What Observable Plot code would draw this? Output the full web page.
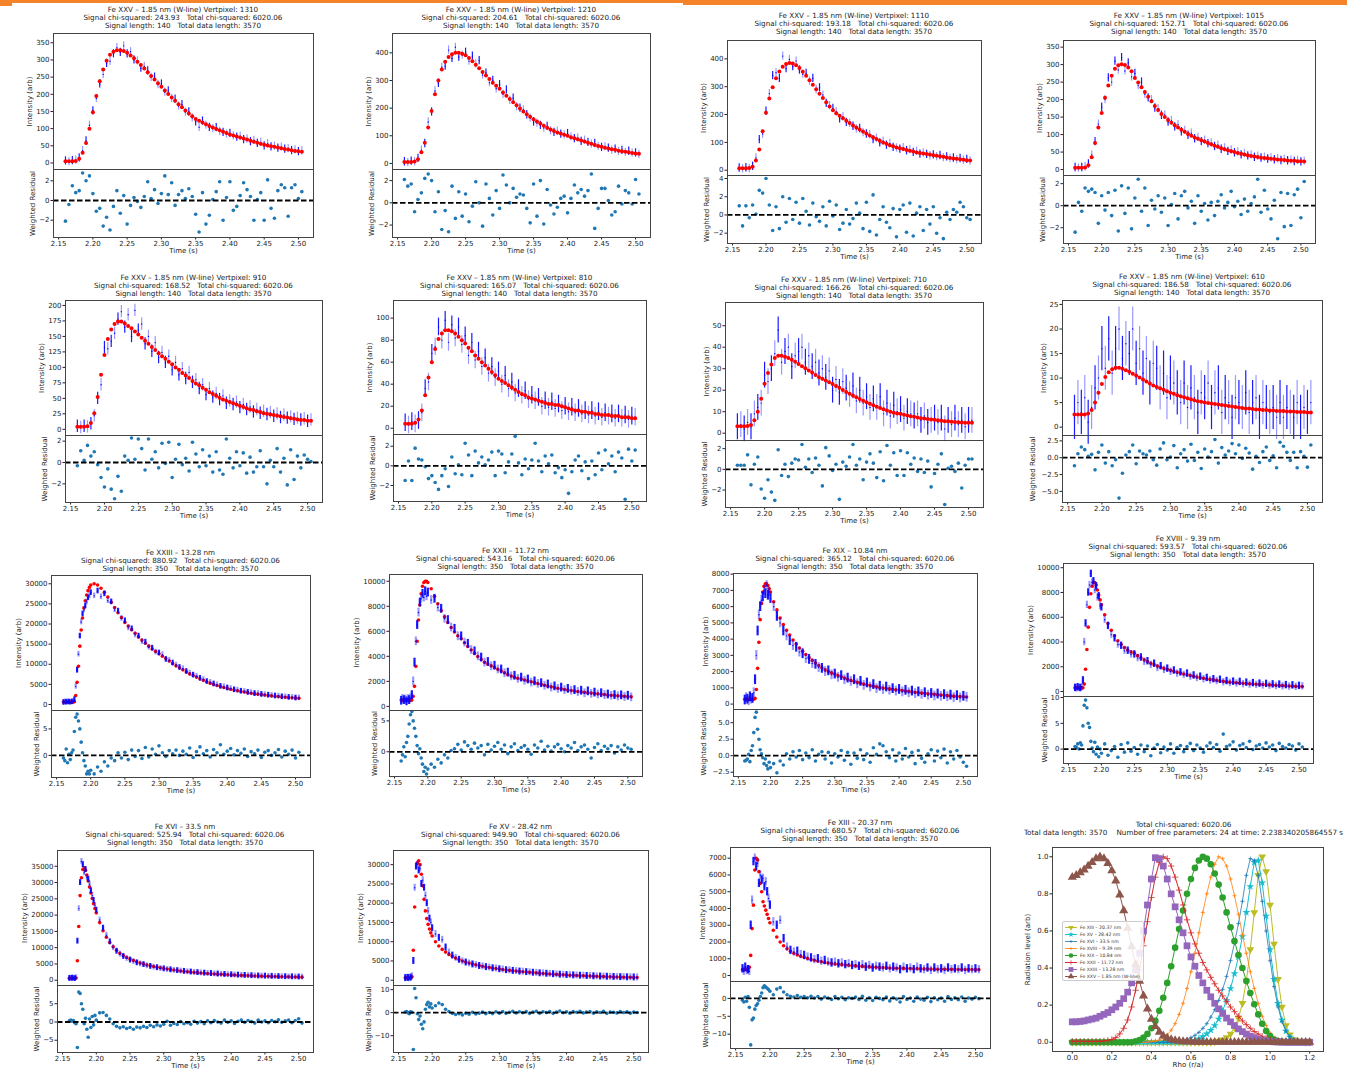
<!DOCTYPE html>
<html><head><meta charset="utf-8">
<script src="https://cdn.jsdelivr.net/npm/d3@7"></script>
<script src="https://cdn.jsdelivr.net/npm/@observablehq/plot@0.6"></script>
<style>
html,body{margin:0;padding:0;background:#fff;}
#root{position:relative;width:1347px;height:1072px;overflow:hidden;font-family:"DejaVu Sans",sans-serif;}
#root > svg{position:absolute;overflow:visible;}
.ttl{position:absolute;width:440px;text-align:center;font-size:7.2px;line-height:8px;color:#222;white-space:pre;}
.bar{position:absolute;background:#f5832a;}
.leg{position:absolute;background:rgba(255,255,255,0.85);border:1px solid #ccc;border-radius:2px;font-size:4.6px;color:#333;}
</style></head><body><div id="root"></div>
<script>
// ---------------- DATA ----------------
const tA = [2.16,2.165,2.17,2.175,2.18,2.185,2.19,2.195,2.2,2.205,2.21,2.215,2.22,2.225,2.23,2.235,2.24,2.245,2.25,2.255,2.26,2.265,2.27,2.275,2.28,2.285,2.29,2.295,2.3,2.305,2.31,2.315,2.32,2.325,2.33,2.335,2.34,2.345,2.35,2.355,2.36,2.365,2.37,2.375,2.38,2.385,2.39,2.395,2.4,2.405,2.41,2.415,2.42,2.425,2.43,2.435,2.44,2.445,2.45,2.455,2.46,2.465,2.47,2.475,2.48,2.485,2.49,2.495,2.5,2.505];
const tB = [2.16,2.162,2.164,2.166,2.168,2.17,2.172,2.174,2.176,2.178,2.18,2.182,2.184,2.186,2.188,2.19,2.192,2.194,2.196,2.198,2.2,
2.205,2.21,2.215,2.22,2.225,2.23,2.235,2.24,2.245,2.25,2.255,2.26,2.265,2.27,2.275,2.28,2.285,2.29,2.295,2.3,2.305,2.31,2.315,2.32,2.325,2.33,2.335,2.34,2.345,2.35,2.355,2.36,2.365,2.37,2.375,2.38,2.385,2.39,2.395,2.4,2.405,2.41,2.415,2.42,2.425,2.43,2.435,2.44,2.445,2.45,2.455,2.46,2.465,2.47,2.475,2.48,2.485,2.49,2.495,2.5,2.505];

const panelNames = [
"Fe XXV – 1.85 nm (W-line) Vertpixel: 1310","Fe XXV – 1.85 nm (W-line) Vertpixel: 1210",
"Fe XXV – 1.85 nm (W-line) Vertpixel: 1110","Fe XXV – 1.85 nm (W-line) Vertpixel: 1015",
"Fe XXV – 1.85 nm (W-line) Vertpixel: 910","Fe XXV – 1.85 nm (W-line) Vertpixel: 810",
"Fe XXV – 1.85 nm (W-line) Vertpixel: 710","Fe XXV – 1.85 nm (W-line) Vertpixel: 610",
"Fe XXIII – 13.28 nm","Fe XXII – 11.72 nm","Fe XIX – 10.84 nm","Fe XVIII – 9.39 nm",
"Fe XVI – 33.5 nm","Fe XV – 28.42 nm","Fe XIII – 20.37 nm"];
const signalChi = ["243.93","204.61","193.18","152.71","168.52","165.07","166.26","186.58","880.92","543.16","365.12","593.57","525.94","949.90","680.57"];
const signalLength = [140,140,140,140,140,140,140,140,350,350,350,350,350,350,350];
const totalChi = "6020.06";
const totalLength = 3570;
const errHalf = [12,15,15,12,10,8,6,4.5,700,350,300,300,900,900,250];

const intensityTicks = [
[0,50,100,150,200,250,300,350],[0,100,200,300,400],[0,100,200,300,400],[0,50,100,150,200,250,300,350],
[0,25,50,75,100,125,150,175,200],[0,20,40,60,80,100],[0,10,20,30,40,50],[0,5,10,15,20,25],
[0,5000,10000,15000,20000,25000,30000],[0,2000,4000,6000,8000,10000],[0,1000,2000,3000,4000,5000,6000,7000,8000],[0,2000,4000,6000,8000,10000],
[0,5000,10000,15000,20000,25000,30000,35000],[0,5000,10000,15000,20000,25000,30000],[0,1000,2000,3000,4000,5000,6000,7000]];
const intensityLimits = [[-19,377],[-22,470],[-19,466],[-17,369],[-10,208],[-5.7,116],[-3.4,60.8],[-1.7,25.8],
[-1500,32060],[-330,10540],[-333,8040],[-400,10340],[-1620,39850],[-1370,33680],[-357,7640]];
const residualTicks = [[-2,0,2],[-2,0,2],[-2,0,2,4],[-2,0,2],[-2,0,2],[-2,0,2],[-2,0,2],[-5,-2.5,0,2.5],
[0,5],[0,5],[-2.5,0,2.5,5],[0,5,10],[-5,0,5],[-10,0,10],[-10,-5,0]];
const residualDigits = [0,0,0,0,0,0,0,1,0,0,1,0,0,0,0];
const residualLimits = [[-3.76,3.15],[-3.12,3.0],[-3.13,4.33],[-3.43,2.74],[-3.75,2.53],[-3.63,3.19],[-3.69,2.79],[-6.65,3.3],
[-4.18,8.48],[-4.0,6.68],[-3.15,7.0],[-2.8,10.2],[-8.36,10],[-17.3,11.8],[-14.0,4.72]];
const timeTicks = [2.15,2.2,2.25,2.3,2.35,2.4,2.45,2.5];

// Vertpixel 1310
const fitP1 = [5,5,5,6,12,30,58,100,148,195,238,272,298,315,324,328,328,326,321,313,305,295,285,275,264,253,243,232,222,211,201,191,181,171,162,153,144,136,128,123,118,113,108,103,99,95,91,87,83,80,77,74,71,68,65,62,59,56,53,51,49,47,45,43,41,39,37,35,34,33];
const dataP1 = [6,4,7,8,15,36,64,110,152,188,230,258,290,296,318,336,322,341,318,324,300,297,276,281,268,249,250,228,230,206,210,188,186,166,170,148,149,131,120,104,122,110,104,100,103,92,89,84,86,79,75,78,68,70,62,66,57,60,50,56,47,49,43,46,40,42,36,38,33,35];
const resP1 = [-2.1,-0.4,1.5,0.8,1.0,2.8,2.0,2.5,0.7,-1.1,-0.8,-2.6,-1.7,-3.0,-0.6,1.0,-1.3,0.5,-2.4,-0.5,0.3,-0.1,-0.7,0.4,1.9,0.2,1.1,-0.3,0.7,2.5,0.6,1.8,-0.5,0.6,1.0,0.2,1.2,0.4,-1.4,-3.2,0.8,-2.4,-1.5,0.1,0.9,1.9,-2.0,0.3,1.9,-1.0,-0.6,0.5,1.8,1.1,0.4,-2.0,0.1,0.8,-2.0,2.1,-0.8,-1.8,1.0,1.6,1.3,-1.6,1.3,1.6,0.2,0.9];
// Vertpixel 1210
const fitP2 = [5,5,5,7,15,40,75,130,190,250,300,340,368,385,395,400,400,397,391,381,370,357,344,331,318,305,292,281,270,257,245,233,221,210,199,188,178,169,160,152,144,136,129,123,117,112,108,104,100,95,91,87,83,79,75,71,67,63,60,57,54,51,49,46,44,42,40,38,36,35];
const dataP2 = [6,3,8,6,18,48,72,150,186,262,290,348,352,410,380,420,385,392,402,370,388,360,372,320,327,292,300,270,285,250,266,228,236,205,200,194,176,164,150,146,138,128,134,118,112,116,106,103,108,96,90,92,80,84,76,70,72,62,58,61,55,48,52,44,47,40,44,37,38,33];
const resP2 = [2.1,1.5,1.7,-0.8,0.3,0.9,2.2,2.6,2.0,-0.8,1.0,-2.4,-0.7,-2.6,1.5,-1.4,1.0,-1.2,0.8,-1.7,-0.3,1.9,0.0,-2.1,1.7,0.4,-1.1,1.1,-0.5,2.5,1.6,0.0,1.3,0.5,0.8,0.7,-0.5,-1.8,1.7,-1.2,2.0,-1.9,1.2,-0.2,-1.0,-0.4,0.4,0.6,-0.9,0.4,1.6,0.9,1.2,0.6,1.1,2.6,-2.3,-0.5,1.3,1.3,0.2,-1.1,-0.8,1.5,-0.1,1.1,0.9,-0.1,2.1,0.8];
// Vertpixel 1110
const fitP3 = [7,7,7,8,12,35,74,140,206,258,298,330,355,372,382,385,383,377,367,354,339,323,307,291,275,259,244,229,215,205,196,187,178,170,161,153,146,139,132,125,118,112,106,100,95,90,86,82,79,76,73,70,67,64,62,60,58,56,54,52,50,48,46,44,42,41,39,38,36,35];
const dataP3 = [8,5,9,6,14,44,110,130,212,275,340,350,330,410,365,398,372,392,360,345,348,320,330,290,296,270,240,232,222,210,185,192,172,168,158,148,150,135,130,128,110,115,98,104,90,96,82,80,76,81,70,74,64,68,58,62,57,52,55,49,53,45,48,42,44,38,42,36,39,33];
const resP3 = [1.0,-1.2,1.0,-0.3,1.1,0.1,2.7,2.4,4.0,1.1,-1.7,0.9,-1.5,2.0,-0.8,1.8,-0.5,1.4,-0.9,1.8,0.4,-1.1,1.3,-0.2,-0.7,0.9,-1.2,1.5,-0.1,1.1,-1.6,-0.9,0.6,-1.0,-0.4,1.3,0.2,-1.5,1.4,-1.8,2.2,-2.2,-0.5,0.9,-0.8,-1.4,0.7,-2.4,0.6,1.1,-1.9,1.3,-2.3,0.2,0.9,-1.7,0.6,-1.0,0.9,-2.0,-0.3,-2.6,0.3,-0.5,0.6,0.3,1.4,0.9,-0.3,-0.5];
// Vertpixel 1015
const fitP4 = [5,5,5,6,12,35,76,120,162,205,240,268,288,298,301,299,292,281,262,249,235,222,208,195,182,170,159,150,142,134,127,120,114,108,102,97,92,88,84,80,76,72,68,65,61,58,55,52,50,47,45,43,41,39,37,36,34,33,32,31,30,29,28,27,26,25,25,24,24,23];
const dataP4 = [6,4,6,8,16,42,80,130,178,200,262,250,310,285,320,282,305,265,275,240,250,215,205,200,176,174,155,156,136,140,122,128,108,112,98,104,88,92,80,84,74,76,66,70,58,62,52,56,48,50,42,46,39,42,35,38,33,35,30,33,28,31,26,29,25,27,23,26,22,24];
const resP4 = [-2.4,0.3,-0.5,1.6,1.3,1.5,1.2,-1.6,0.9,-0.4,1.2,-0.9,1.4,-2.3,1.8,-0.7,1.6,-2.1,0.7,2.4,-0.5,1.6,-1.8,0.5,-0.3,0.9,-0.6,0.7,-1.8,0.1,1.1,-1.2,0.9,1.3,-0.2,0.4,-1.6,0.9,-0.5,0.2,-1.3,0.3,-0.9,0.4,1.0,-0.2,0.3,1.3,-0.1,0.4,-0.8,0.6,-0.5,0.2,0.8,2.4,-0.6,1.4,-0.3,-1.2,0.5,-3.0,1.2,-1.9,1.1,-1.8,1.0,1.5,-1.1,2.2];
// Vertpixel 910
const fitP5 = [4,4,4,5,10,26,52,88,120,146,161,170,174,174,171,167,163,158,153,148,143,138,133,128,123,118,114,109,105,100,96,91,87,83,78,74,71,67,64,60,57,54,51,48,46,44,42,40,38,36,34,32,31,29,28,26,25,24,23,22,21,20,19,18,17,16,15,15,14,14];
const dataP5 = [5,3,5,4,9,22,50,72,132,130,142,155,178,190,165,185,150,192,160,170,138,150,126,140,116,124,108,118,96,108,88,98,82,92,76,80,66,72,56,66,52,58,48,54,42,46,40,44,35,40,32,36,28,32,26,29,24,27,21,25,19,23,18,20,16,18,15,17,13,15];
const resP5 = [-0.3,1.1,0.2,1.6,0.6,1.0,-0.2,-1.4,-2.3,-0.6,-2.5,-3.4,-1.3,-2.7,0.6,0.2,2.3,0.3,2.2,1.3,-0.7,2.2,0.3,1.0,-0.5,1.8,-0.1,1.9,-1.4,0.3,1.7,-0.2,0.4,-0.8,1.9,0.8,-0.4,1.2,-0.3,0.6,-0.9,1.0,-0.7,-1.1,2.2,0.4,-0.5,1.0,-0.3,0.9,-1.0,0.5,-0.9,-0.4,1.1,-0.4,-2.0,0.2,-0.4,1.3,-0.9,0.4,-2.1,1.2,-1.6,0.6,-0.5,0.7,0.3,0.1];
// Vertpixel 810
const fitP6 = [4,4,4,5,8,16,30,46,60,72,81,86,89,89,88,86,83,80,77,73,70,66,63,60,57,54,51,48,45,43,41,39,37,35,33,31,30,28,27,26,25,24,23,22,22,21,21,20,19,18,17,16,16,15,15,14,14,13,13,12,12,12,11,11,11,10,10,10,9,9];
const dataP6 = [5,3,6,4,7,14,36,42,68,74,92,80,98,78,94,82,92,76,84,66,78,62,70,56,64,50,56,46,52,40,48,36,42,32,36,30,34,26,30,25,28,20,25,19,24,18,22,16,20,15,19,14,18,13,16,12,16,11,15,10,14,11,13,9,13,9,12,8,11,10];
const resP6 = [-1.5,0.5,-1.5,1.8,0.7,0.6,-0.1,-1.3,-1.0,-1.7,-2.4,-1.0,-0.3,-2.1,0.9,-0.8,0.1,-0.9,2.3,1.1,-1.0,1.5,0.3,0.9,0.1,0.6,1.4,-1.0,1.5,1.2,-0.7,0.4,1.2,3.0,0.3,-0.9,0.7,-0.3,0.6,2.3,0.5,-0.6,1.0,0.2,1.1,-0.7,-0.2,-1.2,-0.4,-2.8,-0.6,0.6,1.0,-0.5,0.4,-1.3,0.5,-0.9,1.3,-0.4,1.6,0.2,1.0,-0.6,1.4,0.8,-3.4,1.7,0.5,1.6];
// Vertpixel 710
const fitP7 = [3.2,3.2,3.2,3.3,3.8,6,10,16,23,28,32,35,36,36,35.6,35,34.2,33.2,32.2,31.2,30.2,29.2,28.2,27.1,26,25.3,24.5,23.7,22.9,22,21.1,20.1,19.2,18.3,17.5,16.7,15.9,15.1,14.4,13.7,13,12.3,11.7,11.1,10.5,10,9.5,9.2,9,8.6,8.2,7.9,7.6,7.3,7,6.8,6.6,6.4,6.2,6,5.8,5.6,5.5,5.3,5.2,5.1,5,4.9,4.8,4.8];
const dataP7 = [3,4,2,5,3,9,12,14,27,24,30,37,48,33,38,40,31,36,38,40,33,36,31,33,28,30,26,29,20,25,19,24,21,18,22,15,20,14,17,12,16,12,17,9,14,8,13,10,11,7,10,9,8,9,6,8,5,6,7,5,7,2,6,4,7,4,6,3,6,6];
const resP7 = [0.4,0.4,0.4,1.4,-1.5,0.5,1.2,-1.9,-2.8,-1.0,-2.2,-3.0,1.9,-0.6,0.5,-0.7,0.6,1.0,0.9,2.4,0.2,1.0,-0.3,1.1,0.4,-1.6,2.1,1.3,-0.1,0.5,-2.9,0.7,0.3,1.2,2.4,0.4,1.0,-1.0,0.7,1.5,0.6,-0.8,1.7,-1.1,2.3,0.4,1.6,-0.6,1.8,-0.6,1.6,0.5,1.1,-0.2,1.0,-0.3,0.8,-1.7,-0.4,0.5,1.5,-3.4,0.1,0.3,-0.2,0.6,-1.8,0.4,1.0,1.0];
// Vertpixel 610
const fitP8 = [2.6,2.6,2.6,2.6,2.8,3.5,5,7,8.8,10.2,11.2,11.8,12.1,12.1,11.9,11.6,11.3,10.9,10.5,10.1,9.7,9.3,8.9,8.5,8.2,7.9,7.6,7.3,7,6.8,6.5,6.3,6.1,5.9,5.7,5.5,5.3,5.2,5,4.9,4.8,4.7,4.6,4.5,4.4,4.3,4.2,4.1,4,3.9,3.8,3.8,3.7,3.6,3.6,3.5,3.5,3.4,3.4,3.3,3.3,3.3,3.2,3.2,3.2,3.1,3.1,3.1,3,3];
const dataP8 = [2,5,3,6,1,4,8,10,16,12,18,11,16,20,14,17,15,20,13,16,11,14,9,13,12,8,11,6,10,9,7,5,9,4,8,6,3,7,6,9,4,7,8,3,6,5,2,6,5,4,7,3,5,6,2,5,4,3,4,2,5,2,4,3,2,5,2,4,3,5];
const resP8 = [-1.2,0.6,1.6,1.2,0.2,0.5,-1.8,0.8,1.9,-0.8,0.9,-1.2,-0.3,-6.0,-2.3,0.4,0.9,1.9,-0.9,1.0,0.6,0.4,1.0,-0.3,-1.1,1.3,2.2,-0.3,0.1,1.8,-1.5,0.6,1.2,-0.5,2.0,-0.4,0.8,-1.6,1.3,0.1,0.9,2.7,-0.8,1.5,0.4,1.0,2.1,0.6,1.9,-0.1,1.4,0.7,-1.7,0.2,-0.7,0.9,1.6,-0.4,0.3,-1.5,2.3,1.7,0.8,-0.4,0.8,-1.5,0.9,0.2,-1.4,1.9];
// Fe XXIII 13.28 nm
const fitP9 = [600,600,600,600,600,600,600,600,700,2200,5500,9500,14500,18500,21500,24000,25800,27200,28300,29100,29700,
30000,29700,28900,27900,26700,25400,24100,22800,21600,20400,19500,18600,17700,16800,16000,15200,14500,13800,13200,12600,12000,11400,10800,10200,9600,9100,8600,8100,7600,7200,6800,6400,6000,5650,5300,5000,4700,4450,4200,4000,3800,3600,3400,3250,3100,2950,2800,2680,2560,2450,2340,2240,2140,2050,1960,1880,1800,1730,1660,1600,1550];
const dataP9 = [500,650,550,700,600,500,650,700,1200,4500,8500,12500,17000,20500,22500,23500,24500,25500,26500,27000,27800,
27000,28200,26800,27500,25800,25500,23500,23200,21400,20800,19000,18800,17300,17000,15600,15500,14200,14000,13000,12800,12400,11200,11000,10300,9800,9200,8900,8200,7800,7300,7000,6500,6200,5700,5500,5100,4900,4500,4400,4100,3950,3650,3550,3300,3250,3000,2950,2700,2700,2500,2450,2300,2250,2100,2100,1900,1900,1750,1750,1600,1650];
const resP9 = [-0.5,-1.0,1.2,-1.4,0.2,-0.8,0.5,1.0,4.5,7.2,7.8,6.5,5.0,2.5,0.5,-1.0,-2.0,-3.5,-3.0,-3.5,-2.8,
-3.5,-2.2,-3.0,-1.2,-2.0,-0.5,-1.0,0.5,-0.5,0.6,-0.8,1.0,-0.2,0.9,-0.6,1.5,-0.3,1.2,0.2,1.8,0.5,-0.2,0.9,0.3,1.0,0.0,0.8,0.2,1.4,-0.4,0.7,1.6,0.3,0.9,-0.3,1.1,0.5,2.0,0.2,0.8,1.3,0.1,0.9,0.4,1.2,-0.2,0.7,0.3,1.0,-0.4,0.6,0.9,0.0,0.5,1.1,-0.3,0.8,0.2,1.0,-0.5,0.6];
// Fe XXII 11.72 nm
const fitP10 = [500,500,500,500,500,500,500,500,500,800,1600,3200,5200,6900,8100,9000,9600,9900,10000,10000,9900,
9400,8800,8200,7650,7150,6700,6300,5950,5650,5400,5080,4780,4500,4240,3990,3750,3520,3380,3240,3100,2960,2820,2680,2550,2420,2320,2250,2180,2110,2050,1970,1900,1830,1760,1690,1620,1560,1500,1450,1400,1350,1310,1270,1230,1190,1150,1120,1090,1060,1030,1000,970,940,910,880,860,840,820,800,780,760];
const dataP10 = [450,600,500,550,400,600,500,650,900,2000,3500,5200,6500,7500,8300,8600,9000,8700,9200,8800,9100,
8500,8600,7900,7800,7000,6900,6300,6200,5600,5600,5100,5000,4500,4400,4000,3900,3500,3550,3200,3250,2950,2950,2650,2700,2400,2450,2200,2300,2050,2150,1900,2000,1800,1850,1650,1750,1500,1600,1400,1500,1300,1400,1250,1300,1150,1250,1050,1200,1000,1100,950,1050,900,950,850,900,800,880,750,850,720];
const resP10 = [-1.5,-0.5,0.8,-0.8,1.5,2.5,4.5,6.0,6.5,5.0,3.8,2.5,1.0,-0.3,0.5,-1.0,-2.0,-3.2,-2.5,-3.6,-2.8,
-2.0,-2.5,-1.2,-1.8,-0.5,-1.0,0.2,0.5,1.2,0.3,1.6,1.0,0.4,1.4,0.6,1.0,-0.5,1.2,0.3,0.9,1.5,0.4,1.1,-0.3,0.8,1.3,0.2,0.7,1.0,0.4,-0.4,1.1,0.6,1.7,0.3,0.9,0.1,0.8,1.2,0.5,0.0,1.0,0.6,1.5,0.2,0.8,1.1,0.4,-1.0,0.7,1.3,0.2,0.9,0.5,1.0,-0.2,0.8,0.3,1.1,0.6,0.4];
// Fe XIX 10.84 nm
const fitP11 = [300,300,300,300,300,300,300,300,350,900,2200,3800,5200,6200,6900,7250,7400,7400,7300,7100,6900,
6300,5800,5300,4900,4550,4250,3950,3700,3450,3250,3050,2860,2690,2530,2380,2240,2110,2000,1920,1850,1760,1680,1600,1530,1460,1400,1340,1290,1240,1190,1140,1100,1060,1020,990,960,935,910,885,860,830,800,780,750,730,700,680,660,640,620,600,580,560,540,520,505,490,475,460,450,440];
const dataP11 = [250,400,300,200,450,300,350,700,1500,3000,4500,5500,6000,6400,6600,7000,6800,7300,6700,6900,6500,
6000,5400,5000,4500,4200,3900,3600,3500,3200,3100,2800,2750,2500,2450,2250,2200,2000,2050,1800,1850,1650,1750,1500,1600,1400,1500,1250,1400,1150,1300,1050,1200,950,1100,900,1050,850,950,800,900,750,850,700,800,650,750,600,700,550,650,500,620,480,580,450,550,400,520,380,480,420];
const resP11 = [-0.8,-0.7,-0.5,0.2,-0.9,0.8,1.5,3.5,5.8,6.6,4.0,2.5,0.9,0.3,-0.3,-1.2,-0.5,-1.5,-2.0,-1.0,-1.8,
-1.2,-2.6,-0.8,-1.4,0.3,-0.5,0.6,-0.2,0.8,-0.6,0.4,-0.3,0.9,-0.8,0.2,0.6,-0.5,0.5,-1.1,0.3,-0.2,0.8,-0.7,0.5,-1.3,0.4,-0.4,0.9,-0.6,0.3,-1.0,1.2,0.2,1.8,1.5,0.6,-0.3,0.9,-0.8,0.4,-0.5,1.1,-0.2,0.5,-1.2,0.8,-0.4,-1.0,0.3,0.9,-0.8,0.7,-0.3,1.0,-1.1,0.6,-0.5,0.8,-0.2,-1.0,-1.6];
// Fe XVIII 9.39 nm
const fitP12 = [300,300,300,300,300,300,300,600,1800,3400,5200,6800,7900,8500,8800,8800,8600,8200,7800,7400,7000,
6200,5500,4950,4500,4100,3800,3550,3350,3200,3100,2900,2720,2560,2420,2290,2170,2060,1960,1870,1790,1710,1630,1560,1490,1420,1360,1300,1240,1180,1120,1070,1020,980,940,900,860,820,790,760,730,710,690,670,650,630,610,595,580,565,550,535,520,505,490,475,460,445,430,420,410,400];
const dataP12 = [300,250,350,300,280,350,900,4000,5500,7000,8000,8600,9500,8800,8900,8200,8500,7600,7700,6900,6800,
5800,5300,4600,4300,3800,3700,3300,3300,3000,3000,2700,2750,2400,2450,2150,2250,1900,2050,1750,1850,1600,1700,1450,1550,1350,1450,1200,1300,1100,1200,1000,1100,900,1000,850,950,750,850,700,800,650,780,600,720,560,680,540,640,500,620,480,580,450,560,420,520,400,500,380,460,420];
const resP12 = [0.5,0.3,1.0,0.0,1.2,0.8,4.5,8.5,9.5,8.0,5.0,4.2,1.5,0.2,-0.5,1.3,-1.0,0.4,-1.5,0.0,-0.8,
1.0,-1.2,-0.3,0.5,-1.6,0.9,-0.6,1.2,-0.4,0.3,-1.0,0.8,-0.5,0.6,-1.3,0.2,0.9,-0.7,0.4,-0.2,1.0,-0.8,0.3,0.7,-0.5,0.5,1.1,-0.3,0.8,0.2,-0.6,0.6,1.2,0.3,0.9,-0.4,2.9,0.5,0.8,1.4,-0.2,0.7,1.0,0.3,1.5,-0.1,0.6,0.9,0.2,1.2,0.4,0.8,-0.3,1.1,0.5,0.2,0.9,0.6,-0.2,1.0,0.4];
// Fe XVI 33.5 nm
const fitP13 = [600,600,600,600,600,700,6000,16500,26000,31500,34000,34500,33800,32300,30500,28600,26800,25100,23500,22000,20700,
17700,15200,13200,11600,10300,9200,8300,7600,7000,6500,6050,5650,5300,5000,4700,4450,4200,4000,3800,3600,3430,3270,3120,2980,2850,2730,2620,2510,2410,2320,2230,2150,2070,2000,1930,1860,1800,1740,1680,1630,1580,1530,1480,1440,1400,1360,1320,1290,1250,1220,1190,1160,1130,1100,1080,1050,1030,1010,990,970,950];
const dataP13 = [550,650,600,700,500,800,12000,22000,30000,36500,35500,33000,34000,31500,31000,29500,27500,26000,24500,23000,21500,
18500,16000,13800,11800,10000,8900,8000,7300,6700,6200,5750,5350,5000,4800,4450,4250,4000,3850,3600,3500,3300,3200,3050,2950,2800,2720,2600,2520,2400,2350,2230,2180,2080,2050,1950,1900,1820,1780,1700,1680,1600,1570,1500,1480,1420,1400,1340,1320,1270,1260,1200,1190,1140,1130,1090,1080,1040,1040,1000,990,960];
const resP13 = [0.3,0.5,0.2,0.4,-0.2,-0.5,-7.0,8.2,7.8,5.0,3.5,-0.5,1.0,-2.0,-4.2,0.8,-1.5,1.5,-0.8,1.8,0.5,
2.5,2.6,1.8,0.8,-0.5,-1.2,-1.6,-1.3,-1.8,-1.5,-2.0,-1.4,-1.6,-1.2,-1.5,-0.9,-1.3,-0.8,-1.1,-0.6,0.2,-0.9,-0.4,-0.7,0.1,-0.5,-0.2,-0.6,0.2,-0.3,0.1,-0.5,0.3,-0.2,0.4,0.0,-0.3,0.5,-0.1,0.3,-0.4,0.2,0.5,-0.1,0.4,0.1,-0.3,0.5,0.0,0.3,-0.2,0.4,0.1,0.6,-0.1,0.3,0.5,-0.2,0.4,0.9,-0.3];
// Fe XV 28.42 nm
const fitP14 = [600,600,600,600,600,900,7800,19000,27000,30500,31000,30000,27500,24500,21000,18000,16000,14500,13300,12300,11500,
10000,8900,8000,7300,6700,6200,5750,5350,5000,4700,4450,4200,4000,3800,3620,3450,3300,3150,3020,2900,2780,2670,2560,2460,2370,2280,2200,2120,2050,1980,1900,1830,1760,1690,1630,1570,1510,1450,1400,1350,1310,1270,1230,1190,1150,1110,1070,1030,1000,970,940,910,880,850,820,800,780,760,740,720,700];
const dataP14 = [550,650,600,500,700,1000,5000,24000,29500,30000,28500,29000,25000,26000,24000,22000,20000,18000,16000,15000,13500,
12000,11000,10500,8500,7200,6400,5800,5300,4900,4600,4350,4100,3950,3700,3600,3400,3300,3100,3050,2850,2800,2600,2580,2420,2380,2250,2220,2100,2060,1950,1920,1800,1780,1680,1650,1560,1530,1440,1420,1340,1330,1260,1250,1180,1160,1100,1090,1020,1010,960,950,900,890,850,840,800,800,760,750,720,710];
const resP14 = [0.3,0.5,0.0,-0.5,0.4,0.2,-16.0,10.5,6.5,-0.5,-3.0,-1.5,-5.0,-7.0,-4.0,1.5,3.5,4.5,2.5,3.8,2.0,
3.0,4.2,3.5,1.5,0.5,-0.3,-0.8,-0.5,-1.0,-0.3,-0.7,0.2,-0.6,-0.2,0.3,-0.5,0.1,-0.4,0.4,-0.2,0.5,-0.3,0.2,0.6,-0.1,0.4,0.0,0.5,-0.3,0.3,0.6,-0.2,0.4,0.1,0.5,-0.3,0.3,0.7,0.0,0.4,-0.2,0.5,0.2,0.6,-0.1,0.3,0.5,-0.2,0.4,0.1,0.6,-0.3,0.3,0.2,-0.1,0.5,0.1,0.4,-0.2,0.3,0.1];
// Fe XIII 20.37 nm
const fitP15 = [350,350,350,350,350,500,1200,2800,4200,6300,7000,6900,6200,5500,5000,4400,4150,3900,3650,3400,3150,
2700,2300,2000,1780,1600,1450,1330,1230,1150,1080,1020,960,910,860,820,780,750,720,690,670,650,630,610,590,575,560,545,530,515,500,490,480,470,460,450,440,435,430,425,420,415,410,405,400,395,390,385,380,378,375,372,370,368,365,362,360,358,355,352,350,350];
const dataP15 = [400,250,500,300,350,250,3000,4500,6800,7000,6500,6700,5500,6000,5700,5800,5300,5600,5000,4600,4200,
3200,3000,3300,2200,1700,1500,1400,1450,1250,1200,1100,1050,950,1000,850,900,800,750,800,700,750,650,700,600,650,550,650,500,600,450,550,500,450,550,400,500,450,350,500,400,450,350,500,400,350,450,300,450,350,400,300,450,350,400,350,450,300,400,350,400,350];
const resP15 = [-0.5,-1.0,0.3,-0.8,0.5,-2.5,-13.0,-6.0,-5.5,-3.0,-2.0,-1.5,-0.5,0.5,1.5,3.0,3.5,3.2,2.8,2.5,2.0,
1.0,2.6,3.0,1.8,1.0,0.6,0.4,0.8,0.3,0.5,0.2,0.6,0.1,0.5,-0.2,0.4,0.1,-0.3,0.5,-0.1,0.3,-0.4,0.2,0.0,0.4,-0.3,0.6,-0.5,0.2,-0.6,0.3,0.0,-0.4,0.4,-0.7,0.2,-0.2,-1.0,0.5,-0.3,0.1,-0.8,0.4,-0.2,-0.5,0.3,-0.9,0.2,-0.4,0.1,-0.8,0.5,-0.3,0.2,-0.4,0.4,-0.8,0.1,-0.2,0.3,-0.1];

// Radiation profiles vs rho
const rho = [0,0.02,0.04,0.06,0.08,0.1,0.12,0.14,0.16,0.18,0.2,0.22,0.24,0.26,0.28,0.3,0.32,0.34,0.36,0.38,0.4,0.42,0.44,0.46,0.48,0.5,0.52,0.54,0.56,0.58,0.6,0.62,0.64,0.66,0.68,0.7,0.72,0.74,0.76,0.78,0.8,0.82,0.84,0.86,0.88,0.9,0.92,0.94,0.96,0.98,1,1.02,1.04,1.06,1.08,1.1,1.12,1.14,1.16,1.18,1.2];
const profFeXIII = [0,0,0,0,0,0,0,0,0,0,0,0,0,0,0,0,0,0,0,0,0,0,0,0,0,0,0,0,0,0,0,0,0,0,0,0,0.003,0.007,0.014,0.025,0.045,0.08,0.13,0.21,0.33,0.5,0.7,0.9,1.0,0.92,0.74,0.53,0.34,0.19,0.09,0.04,0.015,0.005,0.002,0,0];
const profFeXV = [0,0,0,0,0,0,0,0,0,0,0,0,0,0,0,0,0,0,0,0,0,0,0,0,0,0,0,0,0,0,0.005,0.01,0.018,0.03,0.045,0.065,0.09,0.125,0.17,0.225,0.29,0.37,0.46,0.57,0.7,0.84,0.97,0.98,0.86,0.68,0.5,0.34,0.21,0.12,0.06,0.028,0.012,0.005,0.002,0,0];
const profFeXVI = [0,0,0,0,0,0,0,0,0,0,0,0,0,0,0,0,0,0,0,0,0,0,0,0,0,0,0.003,0.006,0.01,0.016,0.025,0.037,0.053,0.075,0.1,0.135,0.175,0.225,0.285,0.355,0.44,0.535,0.64,0.76,0.9,0.99,0.98,0.9,0.76,0.6,0.44,0.3,0.19,0.11,0.06,0.03,0.013,0.005,0.002,0,0];
const profFeXVIII = [0,0,0,0,0,0,0,0,0,0,0,0,0,0,0,0,0,0,0,0,0.003,0.006,0.012,0.022,0.04,0.065,0.1,0.15,0.21,0.29,0.38,0.48,0.59,0.7,0.8,0.89,0.96,1.0,0.99,0.95,0.88,0.79,0.69,0.58,0.48,0.38,0.29,0.21,0.14,0.09,0.05,0.025,0.012,0.005,0.002,0,0,0,0,0,0];
const profFeXIX = [0,0,0,0,0,0,0,0,0,0,0,0,0,0,0,0,0.005,0.012,0.025,0.045,0.075,0.115,0.17,0.24,0.32,0.41,0.51,0.61,0.71,0.8,0.88,0.94,0.98,1.0,0.99,0.96,0.91,0.85,0.78,0.7,0.62,0.545,0.47,0.4,0.33,0.265,0.205,0.15,0.1,0.06,0.033,0.015,0.006,0.002,0,0,0,0,0,0,0];
const profFeXXII = [0.005,0.005,0.005,0.005,0.005,0.005,0.005,0.005,0.007,0.01,0.015,0.025,0.045,0.075,0.12,0.19,0.28,0.39,0.52,0.65,0.78,0.89,0.97,1.0,0.99,0.95,0.89,0.82,0.74,0.66,0.59,0.53,0.48,0.43,0.39,0.35,0.315,0.28,0.25,0.22,0.19,0.165,0.14,0.115,0.095,0.075,0.058,0.044,0.032,0.022,0.015,0.01,0.006,0.004,0.002,0.001,0,0,0,0,0];
const profFeXXIII = [0.11,0.11,0.112,0.115,0.12,0.125,0.13,0.14,0.15,0.16,0.175,0.19,0.21,0.235,0.27,0.32,0.39,0.48,0.6,0.74,0.88,0.995,0.99,0.95,0.88,0.8,0.73,0.66,0.59,0.52,0.46,0.41,0.36,0.32,0.28,0.245,0.21,0.18,0.155,0.13,0.11,0.09,0.072,0.057,0.044,0.033,0.024,0.017,0.011,0.007,0.004,0.002,0.001,0,0,0,0,0,0,0,0];
const profFeXXV = [0.89,0.9,0.915,0.93,0.95,0.97,0.99,1.0,0.99,0.965,0.925,0.87,0.795,0.71,0.615,0.515,0.42,0.33,0.25,0.18,0.125,0.085,0.055,0.035,0.022,0.014,0.009,0.006,0.004,0.003,0.002,0.001,0.001,0,0,0,0,0,0,0,0,0,0,0,0,0,0,0,0,0,0,0,0,0,0,0,0,0,0,0,0];
const profileNames = ["Fe XIII – 20.37 nm","Fe XV – 28.42 nm","Fe XVI – 33.5 nm","Fe XVIII – 9.39 nm","Fe XIX – 10.84 nm","Fe XXII – 11.72 nm","Fe XXIII – 13.28 nm","Fe XXV – 1.85 nm (W-line)"];
const freeParams = 24;
const fitTime = "2.238340205864557";

// ---------------- LAYOUT / STYLE ----------------
const geom = [
 {x0:53,x1:313,ty:9.5,top:33,mid:169,bot:237},
 {x0:392,x1:650,ty:9.5,top:33,mid:169,bot:237},
 {x0:727,x1:981,ty:15.5,top:40,mid:175,bot:243},
 {x0:1063,x1:1315,ty:15.5,top:40,mid:175,bot:243},
 {x0:65,x1:322,ty:277.5,top:300,mid:435,bot:502},
 {x0:393,x1:646,ty:277.5,top:300,mid:434,bot:501},
 {x0:725,x1:983,ty:279.5,top:302,mid:440,bot:507},
 {x0:1062,x1:1322,ty:276.5,top:300,mid:435,bot:502},
 {x0:51,x1:310,ty:553,top:575,mid:710,bot:777},
 {x0:389,x1:642,ty:551,top:574,mid:710,bot:776},
 {x0:733,x1:977,ty:551,top:573,mid:709,bot:776},
 {x0:1063,x1:1313,ty:539,top:563,mid:696,bot:763},
 {x0:57,x1:313,ty:827,top:850,mid:985,bot:1052},
 {x0:393,x1:648,ty:827,top:850,mid:985,bot:1052},
 {x0:730,x1:990,ty:822.5,top:847,mid:981,bot:1048}
];
const profGeom = {x0:1052,x1:1323,ty:821,top:847,bot:1051};
const XDOM = [2.1425, 2.522];
const FONT = "DejaVu Sans, sans-serif";
const root = document.getElementById("root");
const fits = [fitP1,fitP2,fitP3,fitP4,fitP5,fitP6,fitP7,fitP8,fitP9,fitP10,fitP11,fitP12,fitP13,fitP14,fitP15];
const datas = [dataP1,dataP2,dataP3,dataP4,dataP5,dataP6,dataP7,dataP8,dataP9,dataP10,dataP11,dataP12,dataP13,dataP14,dataP15];
const resids = [resP1,resP2,resP3,resP4,resP5,resP6,resP7,resP8,resP9,resP10,resP11,resP12,resP13,resP14,resP15];
const minus = s => s.replace("-", "\u2212");
const fmt = digits => d => minus(d.toFixed(digits));
const labelWidth = s => s.replace(/\u2212/g, "").length * 4.45 + (s.includes("\u2212") ? 5.9 : 0);

function place(el, left, top) { el.style.position = "absolute"; el.style.left = left + "px"; el.style.top = top + "px"; root.appendChild(el); }
function titleBlock(lines, cx, y, lh) {
  const d = document.createElement("div"); d.className = "ttl";
  d.style.lineHeight = (lh || 8) + "px";
  d.textContent = lines.join("\n");
  place(d, cx - 220, y - (lh || 8) / 2);
}
// orange strip at the top of the montage
[[0,0,1347,3],[0,0,12,6],[683,0,664,5]].forEach(([x,y,w,h]) => {
  const b = document.createElement("div"); b.className = "bar"; b.style.width = w + "px"; b.style.height = h + "px"; place(b, x, y);
});

const baseStyle = {fontFamily: FONT, fontSize: "7px", color: "#222", background: "none", overflow: "visible"};

function drawFitPanel(k) {
  const g = geom[k];
  const t = k < 8 ? tA : tB;
  const rows = t.map((x, i) => ({t: x, v: datas[k][i], f: fits[k][i], r: resids[k][i], i}));
  const e = errHalf[k];
  const W = g.x1 - g.x0, H1 = g.mid - g.top, H2 = g.bot - g.mid;
  const ML = 50, MR = 3, MB = 22;
  const yt = intensityTicks[k];
  const yw = Math.max(...yt.map(v => labelWidth(fmt(0)(v))));
  const rd = residualDigits[k];
  const rt = residualTicks[k];
  const rw = Math.max(...rt.map(v => labelWidth(fmt(rd)(v))));
  const big = k >= 8;
  titleBlock([panelNames[k], `Signal chi-squared: ${signalChi[k]}   Total chi-squared: ${totalChi}`, `Signal length: ${signalLength[k]}   Total data length: ${totalLength}`], (g.x0 + g.x1) / 2, g.ty);

  const bars = Plot.ruleX(rows, {x: "t", y1: d => d.v - e, y2: d => d.v + e, stroke: "#0000ff",
        strokeOpacity: d => d.i % 2 ? 0.4 : 0.9, strokeWidth: big ? 2.2 : 1.2});
  const fitDots = Plot.dot(rows, {x: "t", y: "f", r: big ? 1.8 : 2, fill: "#ff0000"});
  const top = Plot.plot({
    width: W + ML + MR, height: H1, marginLeft: ML, marginRight: MR, marginTop: 0, marginBottom: 0,
    style: baseStyle,
    x: {domain: XDOM, axis: null},
    y: {domain: intensityLimits[k], ticks: yt, tickFormat: fmt(0), tickSize: 2.5, tickPadding: 1.5,
        label: "Intensity (arb)", labelAnchor: "center", labelArrow: "none", labelOffset: yw + 13},
    marks: big
      ? [fitDots, bars, Plot.dot(rows, {x: "t", y: "v", r: 0.7, fill: "#0000ff"}), Plot.frame({stroke: "#444"})]
      : [bars, Plot.dot(rows, {x: "t", y: "v", r: 0.7, fill: "#0000ff"}), fitDots, Plot.frame({stroke: "#444"})]
  });
  place(top, g.x0 - ML, g.top);

  const bottom = Plot.plot({
    width: W + ML + MR, height: H2 + MB, marginLeft: ML, marginRight: MR, marginTop: 0, marginBottom: MB,
    style: baseStyle,
    x: {domain: XDOM, ticks: timeTicks, tickFormat: fmt(2), tickSize: 2.5, tickPadding: 1.5,
        label: "Time (s)", labelAnchor: "center", labelArrow: "none", labelOffset: 15},
    y: {domain: residualLimits[k], ticks: rt, tickFormat: fmt(rd), tickSize: 2.5, tickPadding: 1.5,
        label: "Weighted Residual", labelAnchor: "center", labelArrow: "none", labelOffset: rw + 13},
    marks: [
      Plot.dot(rows, {x: "t", y: "r", r: 1.8, fill: "#1f77b4"}),
      Plot.ruleY([0], {stroke: "#000", strokeWidth: 1.8, strokeDasharray: "5.5,2.5"}),
      Plot.frame({stroke: "#444"})
    ]
  });
  place(bottom, g.x0 - ML, g.mid);
}
for (let k = 0; k < 15; k++) drawFitPanel(k);

// ---------------- Radiation profile panel ----------------
const triDown = {draw(context, size) {
  const y = -Math.sqrt(size / (Math.sqrt(3) * 3));
  context.moveTo(0, -y * 2); context.lineTo(-Math.sqrt(3) * y, y); context.lineTo(Math.sqrt(3) * y, y); context.closePath();
}};
const plusSym = d3.symbolPlus || d3.symbolCross;
const profStyles = [
  {vals: profFeXIII, color: "#bcbd22", symbol: triDown, d3sym: triDown, r: 2.9, fill: true, lw: 1},
  {vals: profFeXV, color: "#17becf", symbol: "star", d3sym: d3.symbolStar, r: 2.5, fill: true, lw: 1},
  {vals: profFeXVI, color: "#1f77b4", symbol: "plus", d3sym: plusSym, r: 1.4, fill: false, lw: 0.8},
  {vals: profFeXVIII, color: "#ff7f0e", symbol: "plus", d3sym: plusSym, r: 1.4, fill: false, lw: 0.8},
  {vals: profFeXIX, color: "#2ca02c", symbol: "circle", d3sym: d3.symbolCircle, r: 3.3, fill: true, lw: 1},
  {vals: profFeXXII, color: "#d62728", symbol: "plus", d3sym: plusSym, r: 2.2, fill: false, lw: 1},
  {vals: profFeXXIII, color: "#9467bd", symbol: "square", d3sym: d3.symbolSquare, r: 3.8, fill: true, lw: 1},
  {vals: profFeXXV, color: "#8c564b", symbol: "triangle", d3sym: d3.symbolTriangle, r: 3.4, fill: true, lw: 1}
];
{
  const g = profGeom;
  titleBlock([`Total chi-squared: ${totalChi}`, `Total data length: ${totalLength}    Number of free parameters: ${freeParams} at time: ${fitTime} s`], (g.x0 + g.x1) / 2 - 4, g.ty + 4, 8.5);
  const ML = 50, MR = 3, MB = 20;
  const marks = [];
  profStyles.forEach(s => {
    const rows = rho.map((x, i) => ({x, y: s.vals[i]}));
    marks.push(Plot.line(rows, {x: "x", y: "y", stroke: s.color, strokeWidth: s.lw}));
    marks.push(Plot.dot(rows, s.fill
      ? {x: "x", y: "y", symbol: () => s.symbol, r: s.r, fill: s.color}
      : {x: "x", y: "y", symbol: () => s.symbol, r: s.r, stroke: s.color, strokeWidth: 0.8}));
  });
  marks.push(Plot.frame({stroke: "#444"}));
  const p = Plot.plot({
    width: g.x1 - g.x0 + ML + MR, height: g.bot - g.top + MB, marginLeft: ML, marginRight: MR, marginTop: 0, marginBottom: MB,
    style: baseStyle,
    symbol: {type: "identity"},
    x: {domain: [-0.1, 1.27], ticks: [0,0.2,0.4,0.6,0.8,1.0,1.2], tickFormat: fmt(1), tickSize: 2.5, tickPadding: 1.5,
        label: "Rho (r/a)", labelAnchor: "center", labelArrow: "none", labelOffset: 15},
    y: {domain: [-0.05, 1.05], ticks: [0,0.2,0.4,0.6,0.8,1.0], tickFormat: fmt(1), tickSize: 2.5, tickPadding: 1.5,
        label: "Radiation level (arb)", labelAnchor: "center", labelArrow: "none", labelOffset: 27},
    marks
  });
  place(p, g.x0 - ML, g.top);

  // legend
  const leg = document.createElement("div"); leg.className = "leg";
  leg.style.width = "80px"; leg.style.height = "58px";
  profStyles.forEach((s, i) => {
    const row = document.createElement("div");
    row.style.cssText = `position:absolute;left:1px;top:${1.5 + i * 7}px;height:7px;display:flex;align-items:center;white-space:nowrap;`;
    const svg = d3.create("svg").attr("width", 14).attr("height", 7).style("position", "static").style("margin-right", "2px");
    svg.append("line").attr("x1", 1).attr("x2", 13).attr("y1", 3.5).attr("y2", 3.5).attr("stroke", s.color).attr("stroke-width", s.lw);
    const path = svg.append("path").attr("transform", "translate(7,3.5)").attr("d", d3.symbol(s.d3sym, Math.PI * s.r * s.r * 0.5)());
    if (s.fill) path.attr("fill", s.color); else path.attr("fill", "none").attr("stroke", s.color).attr("stroke-width", 0.7);
    row.appendChild(svg.node());
    const tx = document.createElement("span"); tx.textContent = profileNames[i]; row.appendChild(tx);
    leg.appendChild(row);
  });
  place(leg, 1062, 921);
}
</script></body></html>
